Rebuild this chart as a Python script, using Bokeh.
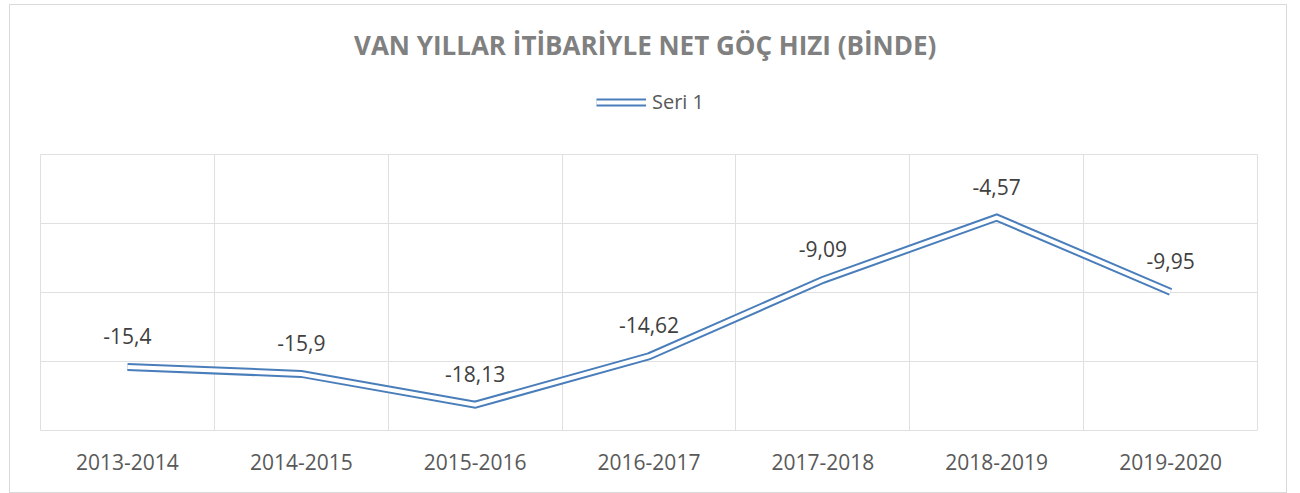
from bokeh.plotting import figure
from bokeh.models import (FactorRange, Range1d, FixedTicker, Legend, LegendItem,
                          Label, Column)
from bokeh.core.properties import value
from bokeh.embed import file_html
from bokeh.resources import INLINE

categories = ["2013-2014", "2014-2015", "2015-2016", "2016-2017",
              "2017-2018", "2018-2019", "2019-2020"]
values = [-15.4, -15.9, -18.13, -14.62, -9.09, -4.57, -9.95]
labels = [f"{v:g}".replace(".", ",") for v in values]
y_grid_ticks = [-20, -15, -10, -5, 0]
title_text = "VAN YILLAR İTİBARİYLE NET GÖÇ HIZI (BİNDE)"
series_name = "Seri 1"

FONT = "Open Sans"
BLUE = "#4a7ebb"
GRID = "#e0e0e0"
W = 1276
TOP_H = 148
MAIN_H = 339

# ---- header figure: title + legend ----
head = figure(width=W, height=TOP_H, x_range=Range1d(0, W), y_range=Range1d(0, TOP_H),
              x_axis_location=None, y_axis_location=None,
              min_border=0, output_backend="svg", toolbar_location=None)
head.grid.visible = False
head.outline_line_color = None

# series drawn in the header only to feed the legend (values lie outside its view)
h1 = head.line(list(range(len(values))), values, line_width=8, line_color=BLUE)
h2 = head.line(list(range(len(values))), values, line_width=4, line_color="white")

head.add_layout(Label(x=634, y=TOP_H - 39, text=title_text,
                      text_align="center", text_baseline="middle",
                      text_font=FONT, text_font_size="26px", text_font_style="bold",
                      text_color="#808080"))

legend = Legend(items=[LegendItem(label=series_name, renderers=[h1, h2])],
                location=(556, 38), orientation="horizontal",
                border_line_color=None, background_fill_alpha=0,
                label_text_font=FONT, label_text_font_size="20px",
                label_text_color="#595959", glyph_width=50, glyph_height=20,
                padding=0, margin=0, label_standoff=6)
head.add_layout(legend, "center")

# ---- main chart ----
p = figure(x_range=FactorRange(*categories), y_range=Range1d(-20, 0),
           width=W, height=MAIN_H,
           min_border_left=30, min_border_right=29,
           min_border_top=1, min_border_bottom=62,
           output_backend="svg", toolbar_location=None)

p.outline_line_color = GRID
p.yaxis.visible = False
p.ygrid.ticker = FixedTicker(ticks=y_grid_ticks)
p.xgrid.ticker = FixedTicker(ticks=list(range(len(categories) + 1)))
p.grid.grid_line_color = GRID
p.grid.grid_line_width = 1

ax = p.xaxis[0]
ax.axis_line_color = None
ax.major_tick_line_color = None
ax.minor_tick_line_color = None
ax.major_tick_out = 0
ax.major_tick_in = 0
ax.major_label_standoff = 23
ax.major_label_text_font = FONT
ax.major_label_text_font_size = "21px"
ax.major_label_text_color = "#595959"

p.line(categories, values, line_width=8, line_color=BLUE, line_join="miter")
p.line(categories, values, line_width=4, line_color="white", line_join="miter")

p.text(categories, values, text=labels, y_offset=-31,
       text_align="center", text_baseline="middle",
       text_font=value(FONT), text_font_size="21px", text_color="#404040")

layout = Column(children=[head, p], spacing=0,
                styles={"margin": "4px 0 0 9px", "border": "1px solid #d9d9d9"})

open("out.html", "w").write(file_html(layout, INLINE))
